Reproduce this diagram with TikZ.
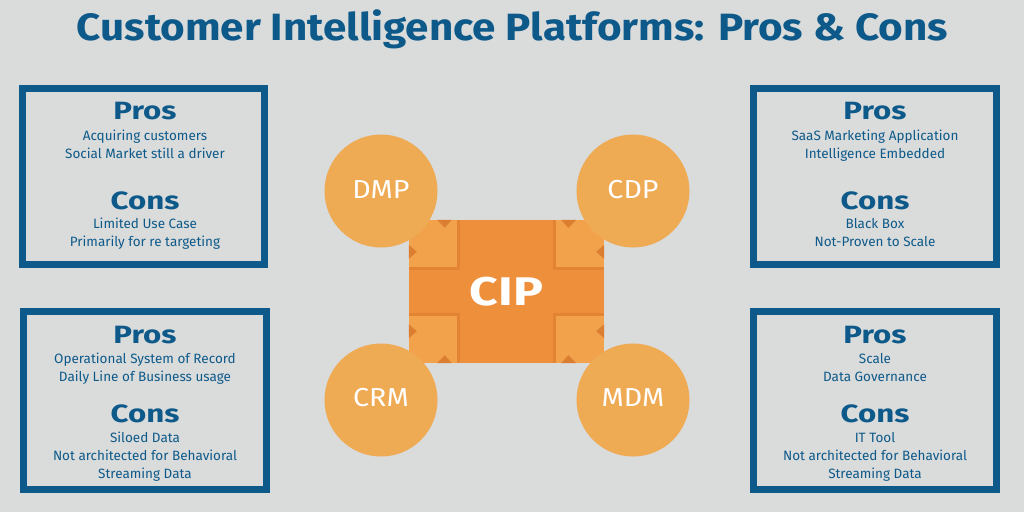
\documentclass[tikz,border=0pt]{standalone}
\usepackage{fontspec}
\usepackage{graphicx}
\setmainfont{Fira Sans}
\usetikzlibrary{positioning}

\definecolor{cipblue}{HTML}{0D5A8A}
\definecolor{cipback}{HTML}{DADBDB}
\definecolor{orbfill}{HTML}{EFAA54}
\definecolor{cipfill}{HTML}{EE8F3C}
\definecolor{cornerfill}{HTML}{F1A24B}
\definecolor{cipshade}{HTML}{DC7E31}

\newcommand\widen[2]{\scalebox{#1}[1]{#2}}

\begin{document}
\begin{tikzpicture}[x=1pt,y=-1pt,
  boxline/.style={draw=cipblue,line width=7pt},
  head/.style={font=\fontsize{25}{25}\selectfont\bfseries,text=cipblue,inner sep=0pt,anchor=base},
  items/.style={font=\fontsize{13.5}{18}\selectfont,text=cipblue,align=center,inner sep=0pt,anchor=north},
  orb/.style={circle,fill=orbfill,minimum size=113pt,inner sep=0pt,text=white,font=\fontsize{26}{26}\selectfont},
  cipsq/.style={rectangle,fill=cipfill,minimum width=195pt,minimum height=143pt,inner sep=0pt,text=white,font=\fontsize{40}{40}\selectfont\bfseries}]
\fill[cipback] (0,0) rectangle (1024,512);
\useasboundingbox (0,0) rectangle (1024,512);

\node[font=\fontsize{38}{38}\selectfont\bfseries,text=cipblue,inner sep=0pt,anchor=base] (title) at (512.5,40) {\widen{1.11}{Customer Intelligence Platforms: Pros \& Cons}};

% pros and cons boxes
\draw[boxline] (22.5,88.5) rectangle (264.5,264.5);
\draw[boxline] (23.5,311.5) rectangle (266.5,489.5);
\draw[boxline] (753.5,88.5) rectangle (996.5,264.5);
\draw[boxline] (753.5,311.5) rectangle (996.5,489.5);

\node[head] (dmppros) at (145,119) {\widen{1.25}{Pros}};
\node[items] (dmpprolist) at (145,130) {Acquiring customers\\Social Market still a driver};
\node[head] (dmpcons) at (145,209) {\widen{1.25}{Cons}};
\node[items] (dmpconlist) at (145,218) {Limited Use Case\\Primarily for re targeting};

\node[head] (crmpros) at (145,343) {\widen{1.25}{Pros}};
\node[items] (crmprolist) at (145,353) {Operational System of Record\\Daily Line of Business usage};
\node[head] (crmcons) at (145,422) {\widen{1.25}{Cons}};
\node[items] (crmconlist) at (145,432) {Siloed Data\\Not architected for Behavioral\\Streaming Data};

\node[head] (cdppros) at (875,119) {\widen{1.25}{Pros}};
\node[items] (cdpprolist) at (875,130) {SaaS Marketing Application\\Intelligence Embedded};
\node[head] (cdpcons) at (875,209) {\widen{1.25}{Cons}};
\node[items] (cdpconlist) at (875,218) {Black Box\\Not-Proven to Scale};

\node[head] (mdmpros) at (875,343) {\widen{1.25}{Pros}};
\node[items] (mdmprolist) at (875,353) {Scale\\Data Governance};
\node[head] (mdmcons) at (875,422) {\widen{1.25}{Cons}};
\node[items] (mdmconlist) at (875,432) {IT Tool\\Not architected for Behavioral\\Streaming Data};

% centre
\node[cipsq] (cip) at (506.5,291.5) {\widen{1.25}{CIP}};
\foreach \c/\sx/\sy in {north west/1/1,north east/-1/1,south west/1/-1,south east/-1/-1}{
  \begin{scope}[shift={(cip.\c)},xscale=\sx,yscale=\sy]
    \fill[cipshade,opacity=0.6] (0,0) rectangle (51,50);
    \fill[cornerfill] (0,0) rectangle (48,47);
    \fill[cipshade] (28,0) -- (43,0) -- (36,8) -- cycle;
    \fill[cipshade] (0,25) -- (0,39) -- (8,32) -- cycle;
  \end{scope}
}
\node[orb] (dmp) at (381,191) {\raisebox{3pt}{\widen{1.1}{DMP}}};
\node[orb] (cdp) at (633,191) {\raisebox{3pt}{\widen{1.1}{CDP}}};
\node[orb] (crm) at (381,400) {\raisebox{5pt}{\widen{1.1}{CRM}}};
\node[orb] (mdm) at (633,400) {\raisebox{5pt}{\widen{1.1}{MDM}}};
\end{tikzpicture}
\end{document}
